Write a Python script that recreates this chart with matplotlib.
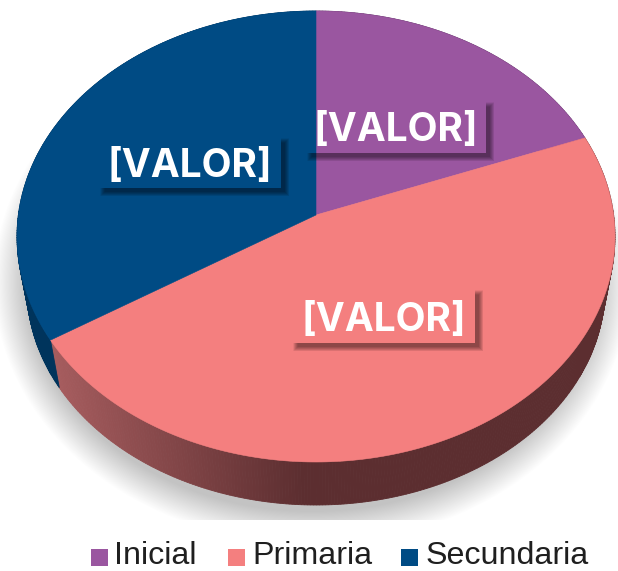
import numpy as np
import matplotlib
matplotlib.use("Agg")
import matplotlib.pyplot as plt
from matplotlib.colors import to_rgb
from matplotlib.patches import Ellipse, Rectangle

categories = ["Inicial", "Primaria", "Secundaria"]
values = [17.8, 49.6, 32.6]
colors = ["#9A56A0", "#F47F7F", "#004B84"]
side_left = ["#5A3260", "#A65C5E", "#00345C"]
side_right = ["#5A3260", "#5C2E30", "#00345C"]
label_text = ["[VALOR]", "[VALOR]", "[VALOR]"]
label_pos = [(396, 131), (384, 321), (190, 167)]
label_box = [(307, 102, 179, 51), (293, 290, 182, 53), (100, 138, 181, 50)]

W, H = 618, 571
fig = plt.figure(figsize=(W / 100, H / 100), dpi=100, facecolor="white")
ax = fig.add_axes([0, 0, 1, 1])
ax.set_xlim(0, W)
ax.set_ylim(H, 0)
ax.axis("off")

apex = (316, 215)
cx, cy, rx, ry = 316, 236.5, 299, 225.5
bx, by, brx, bry = 316, 288, 289, 217

# soft shadow, flat at the bottom
clip = Rectangle((-10, -10), W + 20, 530, transform=ax.transData)
n = 30
for i in range(n):
    t = i / (n - 1)
    e = Ellipse((312, 282), 2 * (318 - 32 * t), 2 * (262 - 32 * t),
                fc="black", ec="none", alpha=0.0075, zorder=1)
    ax.add_patch(e)
    e.set_clip_path(clip)

edges = 90 - np.concatenate([[0], np.cumsum(values)]) * 3.6

# side wall
for k in range(len(values)):
    th = np.linspace(edges[k], edges[k + 1], int(values[k] * 6))
    for a, b in zip(th[:-1], th[1:]):
        ang = np.radians([a, b])
        x = cx + rx * np.cos(ang)
        y = cy - ry * np.sin(ang)
        x2 = bx + brx * np.cos(ang)
        y2 = by - bry * np.sin(ang)
        t = np.clip((x.mean() - 52) / 250, 0, 1)
        col = np.array(to_rgb(side_left[k])) * (1 - t) + np.array(to_rgb(side_right[k])) * t
        ax.fill([x[0], x[1], x2[1], x2[0]], [y[0], y[1], y2[1], y2[0]],
                fc=col, ec=col, lw=0.6, zorder=2)

# top face, with the apex above the centre of the ellipse
faces = []
for k in range(len(values)):
    ang = np.radians(np.linspace(edges[k], edges[k + 1], 200))
    faces.append((np.r_[apex[0], cx + rx * np.cos(ang)],
                  np.r_[apex[1], cy - ry * np.sin(ang)]))
    ax.fill(*faces[k], fc=colors[k], ec=colors[k], lw=0.4, zorder=3)

# labels: shadow falls only outside the box, the slice shows through inside it
for s, (x, y), (bx0, by0, bw, bh) in zip(label_text, label_pos, label_box):
    m = 10
    for i in range(m):
        g = 4 - i * 0.5
        ax.add_patch(Rectangle((bx0 + 4 - g, by0 + 4 - g), bw + 2 * g, bh + 2 * g,
                               fc="black", ec="none", alpha=0.05, zorder=4))
    box = Rectangle((bx0, by0), bw, bh, transform=ax.transData)
    for k in range(len(values)):
        for p in ax.fill(*faces[k], fc=colors[k], ec=colors[k], lw=0.4, zorder=5):
            p.set_clip_path(box)
    ax.text(x, y, s, ha="center", va="center", fontsize=28, fontweight="bold",
            family="Inter", color="white", zorder=6)

# legend
leg_sq = [91, 228, 401]
leg_tx = [114, 252, 426]
for sq, tx, c, name in zip(leg_sq, leg_tx, colors, categories):
    ax.add_patch(Rectangle((sq, 549), 17, 17, fc=c, ec="none", zorder=6))
    ax.text(tx, 564, name, ha="left", va="baseline", fontsize=23.2,
            family="Liberation Sans", color="#1F1F1F", zorder=6)

fig.savefig("out.png", dpi=100)
